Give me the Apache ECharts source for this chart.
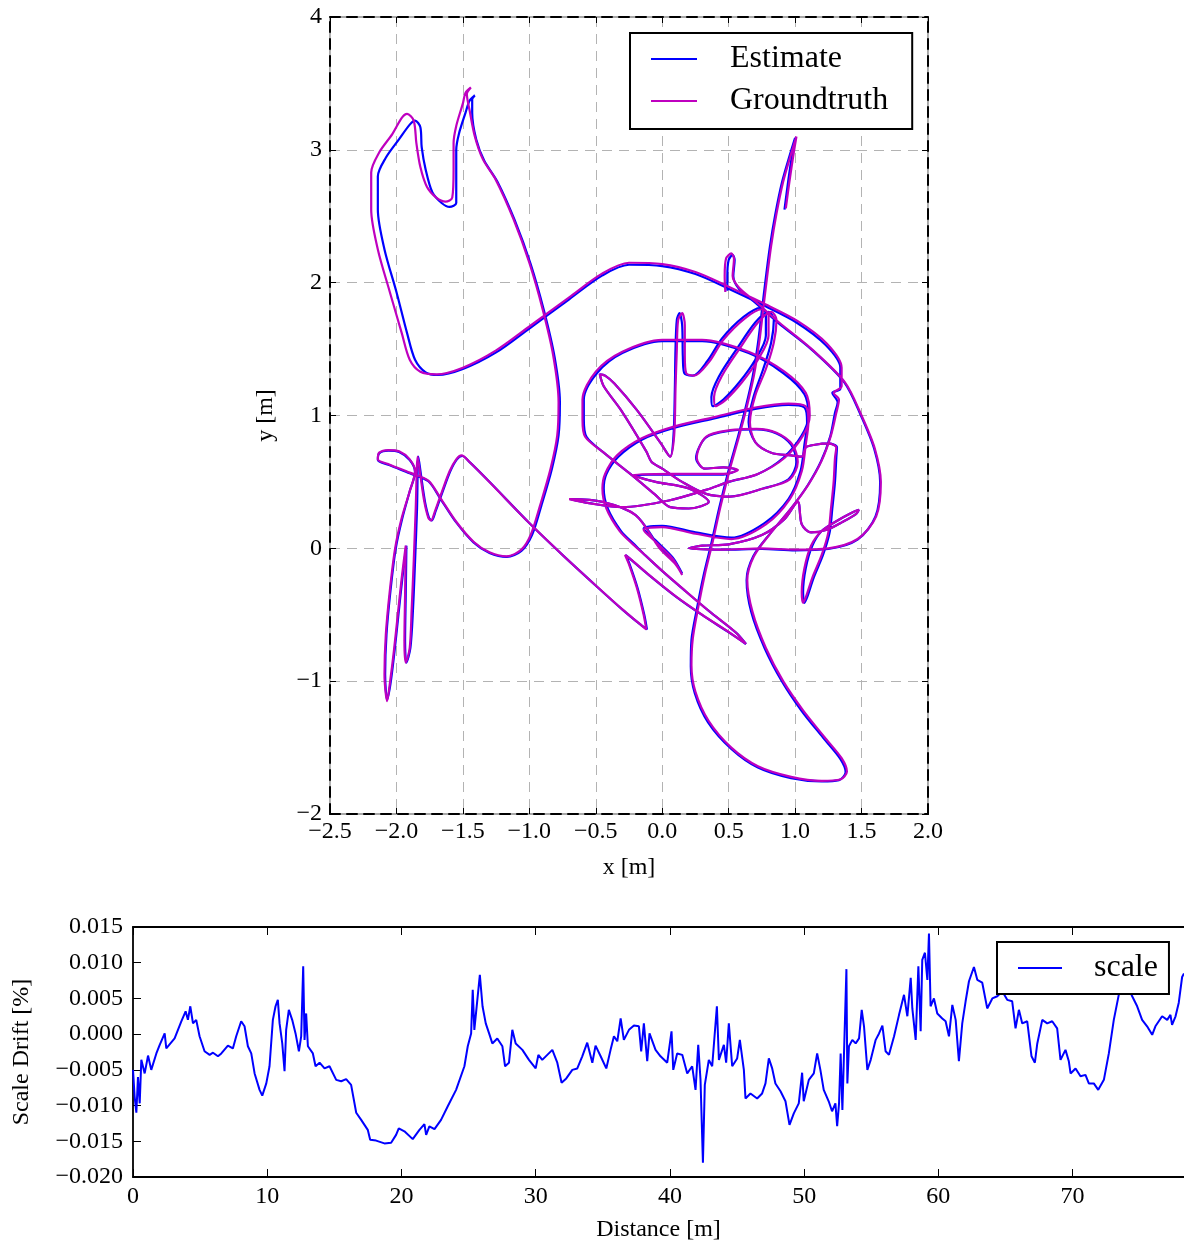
<!DOCTYPE html>
<html>
<head>
<meta charset="utf-8">
<script src="https://cdn.jsdelivr.net/npm/echarts@6/dist/echarts.min.js"></script>
<style>
  html, body { margin: 0; padding: 0; background: #fff; }
  #main { width: 1184px; height: 1243px; }
</style>
</head>
<body>
<div id="main"></div>
<script>
// trajectory, x/y in metres
const groundtruthPath = [
  [0.93,2.56],[0.96,2.78],[0.99,2.98],[1.01,3.1],[0.97,2.97],[0.91,2.76],[0.86,2.52],[0.82,2.28],[0.79,2.05],[0.76,1.8],
  [0.73,1.55],[0.69,1.3],[0.64,1.08],[0.58,0.85],[0.51,0.6],[0.44,0.32],[0.38,0.05],[0.32,-0.2],[0.27,-0.45],[0.23,-0.68],
  [0.22,-0.88],[0.25,-1.08],[0.35,-1.3],[0.52,-1.5],[0.72,-1.64],[0.97,-1.72],[1.2,-1.75],[1.34,-1.74],[1.39,-1.68],[1.35,-1.58],
  [1.22,-1.42],[1.06,-1.22],[0.91,-1.0],[0.78,-0.75],[0.68,-0.48],[0.64,-0.24],[0.69,-0.06],[0.82,0.12],[0.97,0.3],[1.1,0.48],
  [1.2,0.66],[1.27,0.85],[1.31,1.02],[1.33,1.12],[1.29,1.17],[1.35,1.22],[1.35,1.36],[1.24,1.54],[1.02,1.71],[0.75,1.85],
  [0.5,1.97],[0.25,2.08],[0.0,2.14],[-0.25,2.15],[-0.45,2.07],[-0.7,1.89],[-1.0,1.67],[-1.25,1.49],[-1.5,1.36],[-1.7,1.31],
  [-1.82,1.33],[-1.9,1.42],[-1.96,1.62],[-2.05,1.93],[-2.14,2.25],[-2.19,2.55],[-2.19,2.83],[-2.13,2.98],[-2.03,3.12],[-1.96,3.24],
  [-1.92,3.27],[-1.87,3.22],[-1.85,3.05],[-1.82,2.87],[-1.77,2.72],[-1.7,2.64],[-1.63,2.61],[-1.58,2.64],[-1.57,2.85],[-1.57,3.05],
  [-1.55,3.18],[-1.5,3.35],[-1.48,3.43],[-1.44,3.47],[-1.47,3.42],[-1.45,3.3],[-1.41,3.1],[-1.35,2.93],[-1.25,2.77],[-1.12,2.48],
  [-1.0,2.15],[-0.9,1.8],[-0.82,1.45],[-0.78,1.1],[-0.79,0.85],[-0.84,0.6],[-0.92,0.32],[-0.99,0.1],[-1.06,-0.01],[-1.17,-0.06],
  [-1.3,-0.03],[-1.42,0.05],[-1.55,0.2],[-1.67,0.38],[-1.76,0.51],[-1.9,0.57],[-2.05,0.63],[-2.14,0.67],[-2.13,0.72],[-2.06,0.74],
  [-1.98,0.73],[-1.9,0.67],[-1.86,0.58],[-1.9,0.43],[-1.96,0.23],[-2.01,0.0],[-2.05,-0.32],[-2.08,-0.65],[-2.09,-0.95],[-2.07,-1.15],
  [-2.05,-1.02],[-2.02,-0.78],[-1.99,-0.5],[-1.96,-0.22],[-1.93,0.02],[-1.935,-0.35],[-1.94,-0.7],[-1.93,-0.86],[-1.9,-0.75],[-1.885,-0.45],
  [-1.87,-0.1],[-1.855,0.3],[-1.84,0.69],[-1.82,0.55],[-1.79,0.35],[-1.76,0.23],[-1.74,0.21],[-1.71,0.28],[-1.66,0.42],[-1.6,0.58],
  [-1.55,0.67],[-1.51,0.7],[-1.45,0.65],[-1.3,0.5],[-1.0,0.19],[-0.75,-0.05],[-0.5,-0.28],[-0.3,-0.46],[-0.18,-0.56],[-0.12,-0.61],
  [-0.14,-0.5],[-0.19,-0.3],[-0.25,-0.12],[-0.28,-0.05],[-0.24,-0.08],[-0.1,-0.2],[0.1,-0.36],[0.3,-0.5],[0.5,-0.63],[0.63,-0.72],
  [0.55,-0.63],[0.35,-0.47],[0.15,-0.3],[0.0,-0.17],[-0.13,-0.05],
  [-0.22,0.03],[-0.32,0.13],[-0.42,0.3],[-0.45,0.45],[-0.43,0.56],[-0.34,0.7],[-0.15,0.83],[0.1,0.92],[0.4,0.99],[0.7,1.06],
  [0.95,1.09],[1.08,1.07],[1.1,0.95],[1.08,0.78],[1.05,0.58],[0.96,0.37],[0.78,0.18],[0.52,0.07],[0.25,0.11],[0.0,0.16],
  [-0.14,0.14],[-0.05,0.05],[0.08,-0.08],[0.15,-0.2],[0.1,-0.12],[-0.02,0.0],[-0.2,0.25],[-0.45,0.35],[-0.7,0.37],[-0.55,0.34],
  [-0.3,0.31],[0.05,0.36],[0.33,0.44],[0.5,0.5],[0.72,0.56],[0.92,0.68],[1.06,0.85],[1.11,1.0],[1.08,1.17],[0.92,1.33],
  [0.65,1.48],[0.3,1.57],[0.0,1.57],[-0.3,1.48],[-0.5,1.33],[-0.6,1.12],[-0.6,0.97],[-0.58,0.84],[-0.44,0.72],[-0.24,0.56],
  [-0.06,0.41],[0.06,0.31],[0.2,0.3],[0.35,0.35],[0.2,0.45],[-0.05,0.5],[-0.22,0.55],[0.08,0.56],[0.46,0.56],[0.57,0.59],
  [0.46,0.61],[0.32,0.6],[0.26,0.68],[0.33,0.84],[0.51,0.89],[0.71,0.9],[0.86,0.87],[0.98,0.78],[1.02,0.65],[0.96,0.52],
  [0.76,0.45],[0.51,0.39],[0.33,0.41],[0.15,0.5],[0.0,0.6],[-0.08,0.65],[-0.12,0.73],[-0.31,1.04],[-0.44,1.22],[-0.47,1.31],
  [-0.43,1.3],[-0.36,1.24],[-0.19,1.04],[-0.01,0.79],[0.06,0.69],[0.09,0.85],[0.1,1.2],[0.11,1.5],[0.12,1.72],[0.15,1.77],
  [0.17,1.68],[0.17,1.45],[0.18,1.32],[0.24,1.3],[0.35,1.4],[0.46,1.57],[0.62,1.73],[0.75,1.8],[0.8,1.76],[0.8,1.6],
  [0.72,1.42],[0.6,1.25],[0.48,1.12],[0.4,1.07],[0.39,1.14],[0.45,1.3],[0.58,1.5],[0.72,1.7],[0.82,1.78],[0.86,1.72],
  [0.84,1.55],[0.78,1.35],[0.7,1.15],[0.66,0.95],[0.7,0.8],[0.82,0.72],[0.97,0.7],[1.05,0.69],[1.08,0.76],[1.15,0.78],
  [1.25,0.79],[1.31,0.76],[1.3,0.68],[1.29,0.5],[1.27,0.3],[1.25,0.12],[1.2,-0.05],[1.13,-0.22],[1.08,-0.37],[1.06,-0.41],
  [1.05,-0.33],[1.07,-0.15],[1.12,0.02],[1.2,0.13],[1.32,0.21],[1.43,0.27],[1.48,0.29],[1.46,0.26],[1.36,0.2],[1.24,0.14],
  [1.12,0.12],[1.05,0.18],[1.02,0.35],[0.92,0.22],[0.75,0.1],[0.5,0.03],[0.3,0.02],[0.2,0.0],[0.45,-0.01],[0.75,0.0],
  [1.0,-0.01],[1.25,0.0],[1.47,0.07],[1.61,0.24],[1.645,0.5],[1.6,0.75],[1.5,1.0],[1.375,1.25],[1.125,1.5],[0.88,1.7],
  [0.7,1.86],[0.58,1.96],[0.53,2.05],[0.54,2.18],[0.52,2.22],[0.48,2.18],[0.47,2.05],[0.475,1.93]
];

const estimatePath = [
  [0.92,2.55],[0.95,2.78],[0.98,2.98],[1.0,3.09],[0.96,2.96],[0.9,2.75],[0.85,2.51],[0.81,2.27],[0.78,2.04],[0.75,1.79],
  [0.72,1.54],[0.68,1.29],[0.63,1.07],[0.57,0.84],[0.5,0.59],[0.43,0.31],[0.37,0.04],[0.31,-0.21],[0.26,-0.46],[0.22,-0.69],
  [0.215,-0.89],[0.245,-1.09],[0.345,-1.31],[0.52,-1.51],[0.72,-1.65],[0.97,-1.73],[1.2,-1.755],[1.33,-1.745],[1.38,-1.685],[1.34,-1.585],
  [1.21,-1.425],[1.05,-1.225],[0.9,-1.0],[0.77,-0.75],[0.67,-0.48],[0.635,-0.24],[0.685,-0.06],[0.815,0.115],[0.965,0.295],[1.095,0.475],
  [1.195,0.655],[1.265,0.845],[1.3,1.02],[1.32,1.1],[1.28,1.17],[1.34,1.2],[1.34,1.36],[1.23,1.53],[1.01,1.7],[0.75,1.835],
  [0.5,1.955],[0.25,2.065],[0.0,2.125],[-0.25,2.135],[-0.45,2.055],[-0.7,1.875],[-1.0,1.655],[-1.25,1.475],[-1.5,1.35],[-1.69,1.305],
  [-1.78,1.325],[-1.86,1.42],[-1.92,1.62],[-2.0,1.93],[-2.09,2.25],[-2.14,2.55],[-2.14,2.8],[-2.08,2.94],[-1.98,3.08],[-1.9,3.19],
  [-1.86,3.22],[-1.82,3.17],[-1.81,3.02],[-1.78,2.85],[-1.73,2.68],[-1.66,2.6],[-1.6,2.57],[-1.55,2.6],[-1.55,2.8],[-1.55,3.0],
  [-1.53,3.12],[-1.48,3.28],[-1.45,3.37],[-1.41,3.41],[-1.43,3.38],[-1.43,3.28],[-1.4,3.08],[-1.34,2.92],[-1.24,2.76],[-1.11,2.47],
  [-0.99,2.14],[-0.89,1.79],[-0.81,1.44],[-0.77,1.1],[-0.78,0.85],[-0.83,0.6],[-0.91,0.32],[-0.98,0.1],[-1.06,-0.02],[-1.17,-0.065],
  [-1.3,-0.035],[-1.42,0.045],[-1.55,0.195],[-1.67,0.375],[-1.76,0.505],[-1.9,0.565],[-2.05,0.625],[-2.14,0.665],[-2.13,0.715],[-2.06,0.735],
  [-1.98,0.725],[-1.9,0.665],[-1.86,0.575],[-1.9,0.43],[-1.955,0.23],[-2.005,0.0],[-2.045,-0.32],[-2.075,-0.65],[-2.085,-0.95],[-2.07,-1.14],
  [-2.045,-1.02],[-2.015,-0.78],[-1.985,-0.5],[-1.955,-0.22],[-1.925,0.02],[-1.93,-0.35],[-1.935,-0.7],[-1.925,-0.86],[-1.895,-0.75],[-1.875,-0.45],
  [-1.86,-0.1],[-1.845,0.3],[-1.835,0.69],[-1.815,0.55],[-1.785,0.35],[-1.755,0.23],[-1.735,0.21],[-1.705,0.28],[-1.655,0.42],[-1.595,0.58],
  [-1.545,0.67],[-1.505,0.695],[-1.445,0.645],[-1.295,0.495],[-0.995,0.185],[-0.745,-0.055],[-0.495,-0.285],[-0.295,-0.465],[-0.175,-0.565],[-0.115,-0.61],
  [-0.135,-0.5],[-0.185,-0.3],[-0.245,-0.12],[-0.275,-0.05],[-0.235,-0.085],[-0.095,-0.205],[0.105,-0.365],[0.305,-0.505],[0.505,-0.635],[0.63,-0.72],
  [0.555,-0.635],[0.355,-0.475],[0.155,-0.305],[0.005,-0.175],[-0.125,-0.055],
  [-0.21,0.03],[-0.31,0.13],[-0.41,0.3],[-0.44,0.45],[-0.42,0.56],[-0.33,0.69],[-0.15,0.82],[0.1,0.91],[0.4,0.98],[0.7,1.05],
  [0.95,1.08],[1.07,1.06],[1.09,0.95],[1.07,0.78],[1.04,0.58],[0.95,0.37],[0.77,0.19],[0.52,0.08],[0.25,0.12],[0.0,0.17],
  [-0.14,0.15],[-0.05,0.06],[0.08,-0.07],[0.15,-0.19],[0.1,-0.11],[-0.02,0.01],[-0.2,0.25],[-0.45,0.35],[-0.69,0.37],[-0.55,0.34],
  [-0.3,0.31],[0.05,0.36],[0.33,0.44],[0.5,0.5],[0.72,0.56],[0.91,0.68],[1.05,0.85],[1.1,1.0],[1.07,1.16],[0.91,1.32],
  [0.65,1.47],[0.3,1.56],[0.0,1.56],[-0.3,1.47],[-0.49,1.32],[-0.59,1.12],[-0.59,0.97],[-0.57,0.84],[-0.44,0.72],[-0.24,0.56],
  [-0.06,0.41],[0.06,0.31],[0.2,0.3],[0.35,0.35],[0.2,0.45],[-0.05,0.5],[-0.22,0.55],[0.08,0.555],[0.46,0.555],[0.56,0.59],
  [0.46,0.61],[0.32,0.6],[0.255,0.68],[0.33,0.835],[0.51,0.885],[0.71,0.895],[0.86,0.865],[0.97,0.78],[1.01,0.65],[0.95,0.52],
  [0.76,0.45],[0.51,0.39],[0.33,0.41],[0.15,0.5],[0.0,0.6],[-0.08,0.65],[-0.12,0.73],[-0.31,1.04],[-0.44,1.22],[-0.47,1.31],
  [-0.43,1.3],[-0.36,1.24],[-0.19,1.04],[-0.01,0.79],[0.06,0.69],[0.085,0.85],[0.095,1.2],[0.1,1.5],[0.11,1.72],[0.13,1.77],
  [0.15,1.68],[0.155,1.45],[0.165,1.32],[0.23,1.3],[0.34,1.41],[0.45,1.58],[0.61,1.74],[0.74,1.81],[0.78,1.77],[0.78,1.6],
  [0.7,1.42],[0.58,1.25],[0.46,1.12],[0.38,1.07],[0.37,1.14],[0.43,1.3],[0.56,1.5],[0.7,1.7],[0.8,1.78],[0.84,1.72],
  [0.82,1.55],[0.76,1.35],[0.69,1.15],[0.65,0.95],[0.7,0.8],[0.82,0.72],[0.97,0.7],[1.05,0.69],[1.08,0.76],[1.15,0.78],
  [1.25,0.79],[1.315,0.76],[1.31,0.68],[1.3,0.5],[1.28,0.3],[1.26,0.12],[1.21,-0.05],[1.14,-0.22],[1.09,-0.37],[1.07,-0.41],
  [1.06,-0.33],[1.08,-0.15],[1.13,0.02],[1.2,0.13],[1.32,0.21],[1.43,0.27],[1.48,0.29],[1.46,0.26],[1.36,0.2],[1.24,0.14],
  [1.12,0.12],[1.05,0.18],[1.02,0.35],[0.92,0.22],[0.75,0.1],[0.5,0.03],[0.3,0.02],[0.2,0.0],[0.45,-0.01],[0.75,-0.005],
  [1.0,-0.015],[1.25,-0.005],[1.47,0.065],[1.605,0.24],[1.64,0.5],[1.595,0.75],[1.495,1.0],[1.37,1.25],[1.12,1.5],[0.875,1.695],
  [0.7,1.85],[0.58,1.95],[0.535,2.05],[0.545,2.17],[0.53,2.21],[0.5,2.17],[0.49,2.05],[0.49,1.94]
];

// scale drift vs travelled distance
const distance = [
  0,0.12,0.25,0.37,0.5,0.62,0.87,1.12,1.36,1.74,1.99,2.36,2.48,3.1,3.35,3.6,3.92,4.09,4.27,4.47,
  4.71,4.96,5.33,5.71,5.96,6.33,6.58,7.07,7.44,7.69,8.06,8.31,8.56,8.81,9.06,9.43,9.63,9.93,10.17,10.42,
  10.62,10.79,10.92,11.12,11.29,11.41,11.61,11.86,12.11,12.36,12.53,12.68,12.78,12.9,13.03,13.4,13.6,13.9,14.27,14.64,
  15.14,15.51,15.88,16.25,16.63,17.0,17.49,17.67,18.11,18.73,19.23,19.6,19.8,20.22,20.84,21.34,21.71,21.84,22.08,22.46,
  22.95,23.45,24.07,24.69,24.94,25.19,25.31,25.43,25.84,26.04,26.28,26.53,26.77,27.14,27.52,27.72,28.01,28.26,28.51,29.01,
  29.5,30.0,30.2,30.49,31.24,31.61,31.93,32.28,32.73,33.1,33.47,33.84,34.22,34.46,34.84,35.26,35.58,35.83,36.08,36.33,
  36.57,36.95,37.32,37.69,37.86,38.06,38.31,38.48,38.93,39.3,39.8,40.12,40.25,40.54,40.92,41.29,41.66,41.91,42.11,42.28,
  42.46,42.6,42.9,43.15,43.5,43.65,44.02,44.19,44.39,44.64,45.01,45.21,45.51,45.63,46.0,46.5,46.87,47.12,47.37,47.62,
  47.86,48.24,48.61,48.91,49.23,49.6,49.85,49.97,50.35,50.72,50.97,51.21,51.46,51.83,52.08,52.33,52.46,52.6,52.72,52.85,
  53.15,53.22,53.34,53.59,53.84,54.09,54.29,54.46,54.71,54.96,55.33,55.58,55.83,56.07,56.32,56.7,57.07,57.44,57.69,57.94,
  58.06,58.31,58.51,58.68,58.8,59.0,59.18,59.3,59.42,59.67,59.92,60.29,60.54,60.79,61.04,61.29,61.53,61.78,62.03,62.28,
  62.65,62.9,63.27,63.64,64.02,64.39,64.76,65.13,65.5,65.75,66.0,66.25,66.62,66.94,67.19,67.37,67.74,68.11,68.48,68.85,
  69.1,69.47,69.72,69.85,70.22,70.59,70.96,71.21,71.58,71.91,72.33,72.7,73.07,73.44,73.94,74.44,74.81,75.18,75.55,75.93,
  76.17,76.67,77.05,77.29,77.41,77.67,77.91,78.16,78.3
];
const scaleDrift = [
  -0.0050,-0.0087,-0.0110,-0.0060,-0.0097,-0.0036,-0.0055,-0.0030,-0.0050,-0.0027,-0.0015,0.0001,-0.0020,-0.0006,0.0006,0.0018,0.0032,0.0020,0.0039,0.0015,
  0.0020,-0.0003,-0.0024,-0.0029,-0.0026,-0.0031,-0.0027,-0.0016,-0.0020,-0.0003,0.0018,0.0011,-0.0017,-0.0027,-0.0055,-0.0078,-0.0086,-0.0069,-0.0045,0.0020,
  0.0039,0.0048,0.0015,-0.0013,-0.0052,0.0006,0.0034,0.0020,0.0001,-0.0024,-0.0003,0.0095,-0.0008,0.0029,-0.0017,-0.0027,-0.0045,-0.0040,-0.0048,-0.0045,
  -0.0064,-0.0066,-0.0063,-0.0071,-0.0110,-0.0120,-0.0134,-0.0148,-0.0149,-0.0153,-0.0152,-0.0141,-0.0132,-0.0136,-0.0147,-0.0134,-0.0126,-0.0141,-0.0129,-0.0133,
  -0.0120,-0.0101,-0.0078,-0.0045,-0.0017,0.0001,0.0062,0.0006,0.0083,0.0039,0.0015,0.0001,-0.0013,-0.0006,-0.0017,-0.0045,-0.0040,0.0006,-0.0013,-0.0022,
  -0.0036,-0.0048,-0.0029,-0.0036,-0.0022,-0.0040,-0.0068,-0.0062,-0.0050,-0.0048,-0.0031,-0.0012,-0.0040,-0.0016,-0.0031,-0.0048,-0.0022,-0.0003,-0.0010,0.0022,
  -0.0008,0.0006,0.0012,0.0011,-0.0024,0.0015,-0.0038,0.0001,-0.0022,-0.0031,-0.0040,0.0004,-0.0050,-0.0027,-0.0029,-0.0055,-0.0045,-0.0078,-0.0015,-0.0064,
  -0.0180,-0.0071,-0.0036,-0.0045,0.0039,-0.0036,-0.0015,-0.0040,0.0015,-0.0045,-0.0034,-0.0008,-0.0050,-0.0090,-0.0083,-0.0090,-0.0083,-0.0069,-0.0034,-0.0048,
  -0.0069,-0.0080,-0.0094,-0.0127,-0.0111,-0.0097,-0.0054,-0.0094,-0.0064,-0.0055,-0.0027,-0.0050,-0.0078,-0.0094,-0.0108,-0.0097,-0.0129,-0.0097,-0.0027,-0.0106,
  0.0091,-0.0069,-0.0017,-0.0008,-0.0013,-0.0006,0.0034,0.0011,-0.0050,-0.0036,-0.0008,0.0001,0.0012,-0.0024,-0.0029,-0.0003,0.0027,0.0055,0.0025,0.0079,
  0.0036,-0.0008,0.0095,0.0004,0.0104,0.0114,0.0076,0.0141,0.0039,0.0050,0.0029,0.0022,0.0018,-0.0003,0.0041,0.0020,-0.0038,0.0015,0.0046,0.0074,
  0.0094,0.0076,0.0072,0.0036,0.0050,0.0053,0.0060,0.0048,0.0046,0.0008,0.0034,0.0015,0.0018,-0.0031,-0.0040,-0.0013,0.0020,0.0015,0.0018,0.0008,
  -0.0036,-0.0022,-0.0038,-0.0055,-0.0048,-0.0059,-0.0057,-0.0069,-0.0069,-0.0078,-0.0064,-0.0027,0.0020,0.0055,0.0075,0.0053,0.0039,0.0020,0.0011,-0.0001,
  0.0011,0.0025,0.0020,0.0027,0.0013,0.0025,0.0044,0.0080,0.0085
];

const xTicks = { min: -2.5, max: 2.0, step: 0.5 };
const yTicks = { min: -2, max: 4, step: 1 };
const driftTicks = { min: -0.02, max: 0.015, step: 0.005 };
const distTicks = { min: 0, max: 78.3, step: 10 };

const font = "'Liberation Serif', 'Times New Roman', serif";
const minus = (v, digits) => (v < -1e-9 ? '\u2212' : '') + Math.abs(v).toFixed(digits);

const labelStyle = { color: '#000', fontFamily: font, fontSize: 24 };
const nameStyle = { color: '#000', fontFamily: font, fontSize: 24 };
const gridDash = { color: '#b3b3b3', type: [10, 7], width: 1 };
const frameDash = { color: '#000', type: [10, 7], width: 2 };
const solidFrame = { color: '#000', width: 1.8 };

const chart = echarts.init(document.getElementById('main'), null, { renderer: 'canvas' });

const option = {
  animation: false,
  backgroundColor: '#fff',
  grid: [
    { left: 330, top: 17, width: 598, height: 797, show: true, borderColor: '#8c8c8c', borderWidth: 1.5, backgroundColor: 'transparent' },
    { left: 133, top: 927, width: 1051, height: 250 }
  ],
  legend: [
    {
      data: ['Estimate', 'Groundtruth'],
      orient: 'vertical',
      left: 630, top: 33,
      padding: [10, 24, 12, 21],
      icon: 'rect',
      itemGap: 10, itemWidth: 46, itemHeight: 2,
      backgroundColor: '#fff', borderColor: '#000', borderWidth: 2, borderRadius: 0,
      textStyle: { color: '#000', fontFamily: font, fontSize: 32, lineHeight: 32, padding: [0, 0, 0, 28] }
    },
    {
      data: ['scale'],
      left: 997, top: 942,
      padding: [10, 11, 10, 21],
      icon: 'rect',
      itemWidth: 44, itemHeight: 2,
      backgroundColor: '#fff', borderColor: '#000', borderWidth: 2, borderRadius: 0,
      textStyle: { color: '#000', fontFamily: font, fontSize: 32, lineHeight: 32, padding: [0, 0, 0, 27] }
    }
  ],
  xAxis: [
    {
      gridIndex: 0, type: 'value', position: 'bottom',
      min: xTicks.min, max: xTicks.max, interval: xTicks.step,
      name: 'x [m]', nameLocation: 'middle', nameGap: 42, nameTextStyle: nameStyle,
      axisLine: { show: true, onZero: false, lineStyle: frameDash },
      axisTick: { inside: true, length: 6, lineStyle: { color: '#000' } },
      axisLabel: Object.assign({ margin: 6, formatter: v => minus(v, 1) }, labelStyle),
      splitLine: { show: true, lineStyle: gridDash }
    },
    {
      gridIndex: 0, type: 'value', position: 'top',
      min: xTicks.min, max: xTicks.max, interval: xTicks.step,
      axisLine: { show: true, onZero: false, lineStyle: frameDash },
      axisTick: { inside: true, length: 6, lineStyle: { color: '#000' } },
      axisLabel: { show: false }, splitLine: { show: false }
    },
    {
      gridIndex: 1, type: 'value', position: 'bottom',
      min: distTicks.min, max: distTicks.max, interval: distTicks.step,
      name: 'Distance [m]', nameLocation: 'middle', nameGap: 41, nameTextStyle: nameStyle,
      axisLine: { show: true, onZero: false, lineStyle: solidFrame },
      axisTick: { inside: true, length: 8, lineStyle: { color: '#000' } },
      axisLabel: Object.assign({ margin: 8, showMaxLabel: false, formatter: v => String(Math.round(v)) }, labelStyle),
      splitLine: { show: false }
    },
    {
      gridIndex: 1, type: 'value', position: 'top',
      min: distTicks.min, max: distTicks.max, interval: distTicks.step,
      axisLine: { show: true, onZero: false, lineStyle: solidFrame },
      axisTick: { inside: true, length: 8, lineStyle: { color: '#000' } },
      axisLabel: { show: false }, splitLine: { show: false }
    }
  ],
  yAxis: [
    {
      gridIndex: 0, type: 'value', position: 'left',
      min: yTicks.min, max: yTicks.max, interval: yTicks.step,
      name: 'y [m]', nameLocation: 'middle', nameRotate: 90, nameGap: 52, nameTextStyle: nameStyle,
      axisLine: { show: true, onZero: false, lineStyle: frameDash },
      axisTick: { inside: true, length: 6, lineStyle: { color: '#000' } },
      axisLabel: Object.assign({ margin: 8, formatter: v => minus(v, 0) }, labelStyle),
      splitLine: { show: true, lineStyle: gridDash }
    },
    {
      gridIndex: 0, type: 'value', position: 'right',
      min: yTicks.min, max: yTicks.max, interval: yTicks.step,
      axisLine: { show: true, onZero: false, lineStyle: frameDash },
      axisTick: { inside: true, length: 6, lineStyle: { color: '#000' } },
      axisLabel: { show: false }, splitLine: { show: false }
    },
    {
      gridIndex: 1, type: 'value', position: 'left',
      min: driftTicks.min, max: driftTicks.max, interval: driftTicks.step,
      name: 'Scale Drift [%]', nameLocation: 'middle', nameRotate: 90, nameGap: 99, nameTextStyle: nameStyle,
      axisLine: { show: true, onZero: false, lineStyle: solidFrame },
      axisTick: { inside: true, length: 8, lineStyle: { color: '#000' } },
      axisLabel: Object.assign({ margin: 10, formatter: v => minus(v, 3) }, labelStyle),
      splitLine: { show: false }
    }
  ],
  series: [
    {
      name: 'Estimate', type: 'line', xAxisIndex: 0, yAxisIndex: 0,
      data: estimatePath, symbol: 'none', smooth: 0.3,
      lineStyle: { color: '#0000ff', width: 2.2 }, itemStyle: { color: '#0000ff' }
    },
    {
      name: 'Groundtruth', type: 'line', xAxisIndex: 0, yAxisIndex: 0,
      data: groundtruthPath, symbol: 'none', smooth: 0.3,
      lineStyle: { color: '#bf00bf', width: 2.2 }, itemStyle: { color: '#bf00bf' }
    },
    {
      name: 'scale', type: 'line', xAxisIndex: 2, yAxisIndex: 2,
      data: distance.map((d, i) => [d, scaleDrift[i]]), symbol: 'none',
      lineStyle: { color: '#0000ff', width: 2 }, itemStyle: { color: '#0000ff' }
    }
  ]
};

chart.setOption(option);
</script>
</body>
</html>
